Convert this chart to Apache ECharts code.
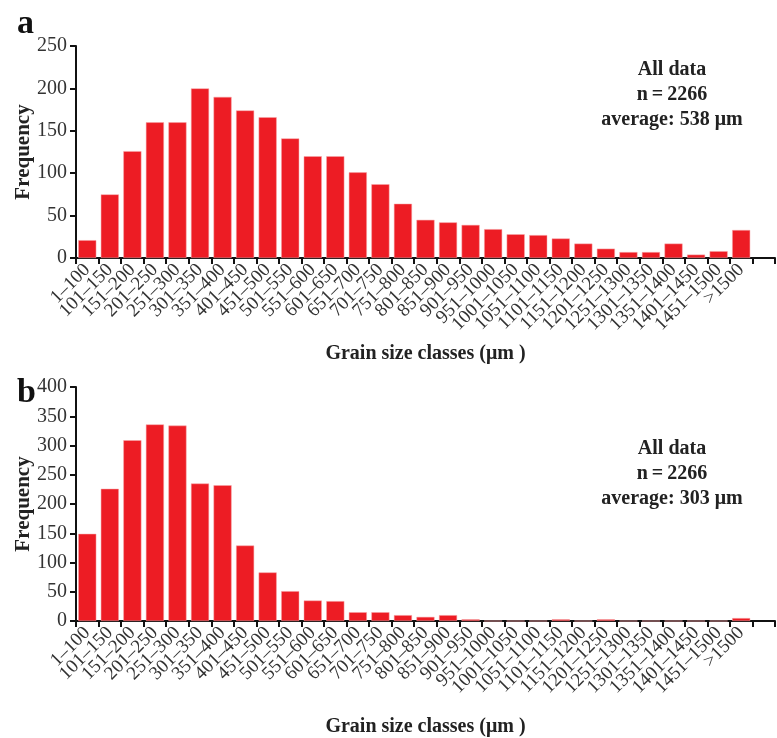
<!DOCTYPE html>
<html>
<head>
<meta charset="utf-8">
<script src="https://cdn.jsdelivr.net/npm/echarts@6/dist/echarts.min.js"></script>
<style>
html,body{margin:0;padding:0;background:#fff;}
#chart{width:777px;height:738px;}
</style>
</head>
<body>
<div id="chart"></div>
<script>
const categories = ['1–100','101–150','151–200','201–250','251–300','301–350','351–400','401–450','451–500','501–550','551–600','601–650','651–700','701–750','751–800','801–850','851–900','901–950','951–1000','1001–1050','1051–1100','1101–1150','1151–1200','1201–1250','1251–1300','1301–1350','1351–1400','1401–1450','1451–1500','>1500'];
const freqA = [21,75,126,160,160,200,190,174,166,141,120,120,101,87,64,45,42,39,34,28,27,23,17,11,7,7,17,4,8,33];
const freqB = [149,226,309,336,334,235,232,129,83,51,35,34,15,15,10,7,10,3,0,0,0,3,0,3,0,0,0,0,0,5];
const yTicksA = {min:0, max:250, interval:50};
const yTicksB = {min:0, max:400, interval:50};
const noteA = ['All data','n\u2009=\u20092266','average: 538 \u03bcm'];
const noteB = ['All data','n\u2009=\u20092266','average: 303 \u03bcm'];

const FONT = '"Liberation Serif","Times New Roman",serif';
const RED = '#ED1C24';
const axisCats = categories.concat(['']);

function xAx(gi, gap){
  return {
    type:'category', gridIndex:gi, data:axisCats, boundaryGap:true,
    axisLine:{lineStyle:{color:'#111',width:2}},
    axisTick:{show:true,length:6,lineStyle:{color:'#111',width:2}},
    axisLabel:{rotate:45,interval:0,margin:9,fontFamily:FONT,fontSize:19,color:'#333'},
    name:'Grain size classes (\u03bcm )', nameLocation:'middle', nameGap:gap,
    nameTextStyle:{fontFamily:FONT,fontSize:20,fontWeight:'bold',color:'#222'}
  };
}
function yAx(gi, t){
  return {
    type:'value', gridIndex:gi, min:t.min, max:t.max, interval:t.interval,
    splitLine:{show:false},
    axisLine:{show:true,lineStyle:{color:'#111',width:2}},
    axisTick:{show:true,length:6,lineStyle:{color:'#111',width:2}},
    axisLabel:{fontFamily:FONT,fontSize:20,color:'#333',margin:9},
    name:'Frequency', nameLocation:'middle', nameGap:42, nameRotate:90, nameMoveOverlap:false,
    nameTextStyle:{fontFamily:FONT,fontSize:21,fontWeight:'bold',color:'#222'}
  };
}
function noteTitles(lines, y){
  return lines.map((s,i)=>({
    text:s, left:667, top:y+i*25, textAlign:'center',
    textStyle:{fontFamily:FONT,fontSize:20,fontWeight:'bold',color:'#222'}
  }));
}

const chart = echarts.init(document.getElementById('chart'), null, {renderer:'canvas'});
chart.setOption({
  backgroundColor:'#fff',
  animation:false,
  title:[
    {text:'a', left:12, top:2, textStyle:{fontFamily:FONT,fontSize:34,fontWeight:'bold',color:'#111'}},
    {text:'b', left:12, top:371, textStyle:{fontFamily:FONT,fontSize:34,fontWeight:'bold',color:'#111'}}
  ].concat(noteTitles(noteA,55)).concat(noteTitles(noteB,434)),
  grid:[
    {left:76, top:46, width:699, height:212},
    {left:76, top:387, width:699, height:244}
  ],
  xAxis:[xAx(0,86), xAx(1,96)],
  yAxis:[yAx(0,yTicksA), yAx(1,yTicksB)],
  series:[
    {type:'bar', xAxisIndex:0, yAxisIndex:0, data:freqA, barCategoryGap:'20%',
     itemStyle:{color:RED, borderColor:'#f7a6a8', borderWidth:0.5}},
    {type:'bar', xAxisIndex:1, yAxisIndex:1, data:freqB, barCategoryGap:'20%',
     itemStyle:{color:RED, borderColor:'#f7a6a8', borderWidth:0.5}}
  ]
});
</script>
</body>
</html>
